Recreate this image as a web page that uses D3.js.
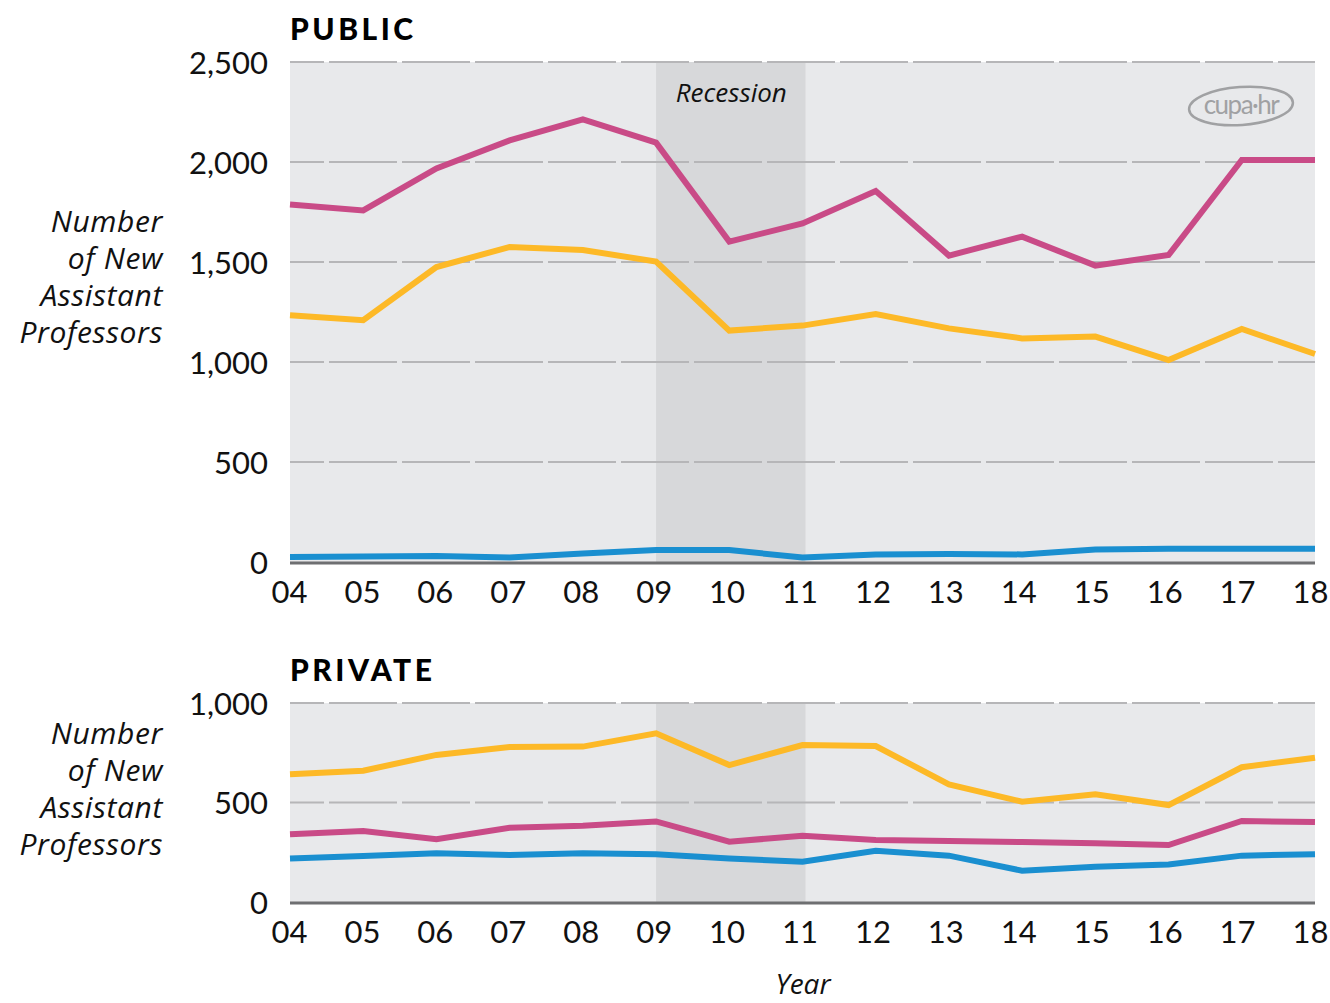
<!DOCTYPE html>
<head>
	<meta charset="utf-8">
	<script src="https://d3js.org/d3.v7.min.js"></script>
	<style>
		body { margin: 0; background: #fff; }
		svg { display: block; font-family: Lato, "Open Sans", sans-serif; }
	</style>
</head>
<body>
<svg width="1330" height="1003"></svg>
<script>
	var years = ['04', '05', '06', '07', '08', '09', '10', '11', '12', '13', '14', '15', '16', '17', '18'];
	var recession = ['09', '11'];

	var publicPink = [1788, 1758, 1968, 2108, 2213, 2097, 1602, 1693, 1855, 1532, 1627, 1482, 1535, 2010, 2010];
	var publicYellow = [1234, 1209, 1475, 1575, 1560, 1502, 1157, 1182, 1240, 1168, 1118, 1127, 1010, 1165, 1040];
	var publicBlue = [25, 28, 30, 22, 42, 60, 60, 22, 38, 40, 38, 62, 66, 66, 66];

	var privatePink = [340, 357, 315, 373, 383, 405, 303, 333, 312, 306, 301, 295, 286, 407, 402];
	var privateYellow = [642, 660, 739, 779, 781, 848, 688, 789, 784, 591, 504, 541, 487, 677, 725];
	var privateBlue = [218, 231, 245, 236, 245, 240, 219, 202, 257, 233, 157, 177, 189, 233, 240];

	var publicTicks = [0, 500, 1000, 1500, 2000, 2500];
	var privateTicks = [0, 500, 1000];

	var colors = {pink: '#c94b87', yellow: '#fdb927', blue: '#1a8fd0'};
	var svg = d3.select('svg');

	var x = d3.scalePoint().domain(years).range([290, 1315]);
	// tick labels sit a little tighter than the plot so "18" stays inside the page
	var xLabel = d3.scalePoint().domain(years).range([289, 1310]);

	function panel(title, top, bottom, maxV, ticks, series) {
		var y = d3.scaleLinear().domain([0, maxV]).range([bottom, top]);
		var g = svg.append('g');

		// background + recession band
		g.append('rect')
			.attr('x', x.range()[0]).attr('y', top)
			.attr('width', x.range()[1] - x.range()[0]).attr('height', bottom - top)
			.attr('fill', '#e8e9eb');
		g.append('rect')
			.attr('x', x(recession[0])).attr('y', top)
			.attr('width', x(recession[1]) - x(recession[0]) + 3).attr('height', bottom - top)
			.attr('fill', '#d7d8da');

		// dashed gridlines
		g.selectAll('line.grid').data(ticks.filter(function (d) { return d > 0; }))
			.enter().append('line')
			.attr('class', 'grid')
			.attr('x1', x.range()[0]).attr('x2', x.range()[1])
			.attr('y1', function (d) { return y(d); })
			.attr('y2', function (d) { return y(d); })
			.attr('stroke', '#b6b6b8')
			.attr('stroke-width', 2)
			.attr('stroke-dasharray', '68,5')
			.attr('stroke-dashoffset', 34);

		// y tick labels
		var ya = g.append('g')
			.attr('transform', 'translate(268,0)')
			.call(d3.axisLeft(y).tickValues(ticks).tickSize(0).tickPadding(0).tickFormat(d3.format(',')));
		ya.select('.domain').remove();
		ya.selectAll('text').attr('font-size', 31).attr('font-family', 'Lato').attr('fill', '#111').attr('dy', '0.36em');

		// x tick labels
		var xa = g.append('g')
			.attr('transform', 'translate(0,' + bottom + ')')
			.call(d3.axisBottom(xLabel).tickSize(0).tickPadding(0));
		xa.select('.domain').remove();
		xa.selectAll('text').attr('font-size', 31).attr('font-family', 'Lato').attr('fill', '#111').attr('dy', 41);

		// lines
		var line = d3.line()
			.x(function (d, i) { return x(years[i]); })
			.y(function (d) { return y(d); });

		series.forEach(function (s) {
			g.append('path')
				.datum(s.values)
				.attr('d', line)
				.attr('fill', 'none')
				.attr('stroke', colors[s.color])
				.attr('stroke-width', 6);
		});

		// baseline
		g.append('line')
			.attr('x1', x.range()[0]).attr('x2', x.range()[1])
			.attr('y1', bottom + 1).attr('y2', bottom + 1)
			.attr('stroke', '#6e6f71').attr('stroke-width', 3);

		// title
		g.append('text')
			.attr('x', 290).attr('y', top - 22)
			.attr('font-size', 30).attr('font-weight', 900)
			.attr('letter-spacing', 3.5)
			.attr('font-family', 'Lato')
			.text(title);

		return y;
	}

	function yTitle(baseline) {
		var t = svg.append('text')
			.attr('text-anchor', 'end')
			.attr('font-style', 'italic')
			.attr('font-family', '"Open Sans"')
			.attr('font-size', 30)
			.attr('letter-spacing', 0.6)
			.attr('fill', '#111');
		['Number', 'of New', 'Assistant', 'Professors'].forEach(function (s, i) {
			t.append('tspan').attr('x', 163).attr('y', baseline + i * 37).text(s);
		});
	}

	panel('PUBLIC', 62, 562, 2500, publicTicks, [
		{color: 'pink', values: publicPink},
		{color: 'yellow', values: publicYellow},
		{color: 'blue', values: publicBlue}
	]);
	panel('PRIVATE', 703, 902, 1000, privateTicks, [
		{color: 'yellow', values: privateYellow},
		{color: 'pink', values: privatePink},
		{color: 'blue', values: privateBlue}
	]);

	yTitle(232);
	yTitle(744);

	svg.append('text')
		.attr('x', (x(recession[0]) + x(recession[1])) / 2 + 2)
		.attr('y', 102)
		.attr('text-anchor', 'middle')
		.attr('font-style', 'italic')
		.attr('font-family', '"Open Sans"')
		.attr('font-size', 26)
		.attr('fill', '#111')
		.text('Recession');

	svg.append('text')
		.attr('x', 803).attr('y', 994)
		.attr('text-anchor', 'middle')
		.attr('font-style', 'italic')
		.attr('font-family', '"Open Sans"')
		.attr('font-size', 28)
		.attr('fill', '#111')
		.text('Year');

	// cupa-hr logo
	var logo = svg.append('g').attr('transform', 'translate(1241,106)');
	logo.append('ellipse')
		.attr('rx', 52).attr('ry', 19)
		.attr('transform', 'rotate(-4)')
		.attr('fill', 'none').attr('stroke', '#a0a1a3').attr('stroke-width', 2.5);
	logo.append('text')
		.attr('text-anchor', 'middle').attr('y', 8)
		.attr('font-size', 26).attr('letter-spacing', -1.5)
		.attr('fill', '#a0a1a3')
		.text('cupa·hr');
</script>
</body>
